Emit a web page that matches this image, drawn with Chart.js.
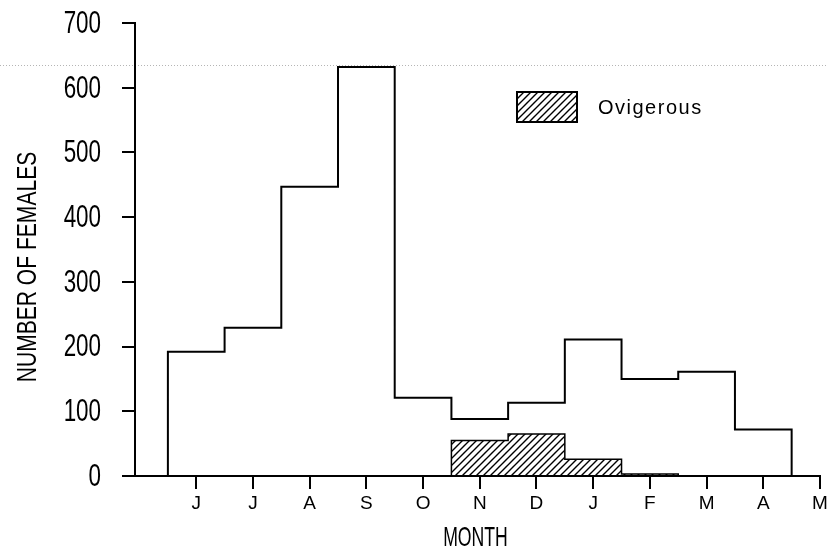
<!DOCTYPE html>
<html>
<head>
<meta charset="utf-8">
<script src="https://cdn.jsdelivr.net/npm/chart.js@4.4.0/dist/chart.umd.min.js"></script>
<style>
  html, body { margin: 0; padding: 0; background: #fff; }
</style>
</head>
<body>
<canvas id="myChart" width="828" height="553"></canvas>
<script>
// Meses (junio a mayo) y número de hembras por mes
const meses = ["J", "J", "A", "S", "O", "N", "D", "J", "F", "M", "A", "M"];
const hembras = [192, 229, 447, 632, 121, 88, 113, 211, 150, 161, 72, 0];
const ovigeras = [0, 0, 0, 0, 0, 55, 65, 26, 3, 0, 0, 0];
const ticksY = [0, 100, 200, 300, 400, 500, 600, 700];

const fuente = "'Liberation Sans', Arial, sans-serif";

document.addEventListener("DOMContentLoaded", function () {
  const ctx = document.getElementById("myChart").getContext("2d");

  // Convierte los valores por mes en el contorno escalonado del histograma
  function escalones(valores) {
    const usados = valores.map((v, i) => (v > 0 ? i : -1)).filter((i) => i >= 0);
    const primero = usados[0];
    const ultimo = usados[usados.length - 1];
    const puntos = [{ x: primero - 0.5, y: 0 }];
    for (let i = primero; i <= ultimo; i++) {
      puntos.push({ x: i - 0.5, y: valores[i] }, { x: i + 0.5, y: valores[i] });
    }
    puntos.push({ x: ultimo + 0.5, y: 0 });
    return puntos;
  }

  // Patrón de rayas diagonales para las ovígeras
  function rayado() {
    const c = document.createElement("canvas");
    c.width = 7;
    c.height = 7;
    const g = c.getContext("2d");
    g.strokeStyle = "#000";
    g.lineWidth = 1.4;
    g.beginPath();
    g.moveTo(0, 7);
    g.lineTo(7, 0);
    g.moveTo(-1, 1);
    g.lineTo(1, -1);
    g.moveTo(6, 8);
    g.lineTo(8, 6);
    g.stroke();
    return ctx.createPattern(c, "repeat");
  }
  const patron = rayado();

  // Texto estrecho (escalado en horizontal), como el de la figura impresa
  function textoEstrecho(c, texto, x, y, tam, escala, alineado, angulo) {
    c.save();
    c.translate(x, y);
    if (angulo) c.rotate(angulo);
    c.scale(escala, 1);
    c.fillStyle = "#000";
    c.font = tam + "px " + fuente;
    c.textAlign = alineado;
    c.textBaseline = "middle";
    c.fillText(texto, 0, 0);
    c.restore();
  }

  // Línea punteada gris, etiquetas del eje Y, títulos y leyenda
  const extras = {
    id: "extras",
    beforeDraw(chart) {
      const c = chart.ctx;
      c.save();
      c.strokeStyle = "#b5b5b5";
      c.lineWidth = 1;
      c.setLineDash([1, 2]);
      c.beginPath();
      c.moveTo(0, 65.5);
      c.lineTo(chart.width, 65.5);
      c.stroke();
      c.restore();
    },
    afterDraw(chart) {
      const c = chart.ctx;
      const ejeY = chart.scales.y;
      const area = chart.chartArea;

      ejeY.ticks.forEach((t) => {
        textoEstrecho(c, String(t.value), 101, ejeY.getPixelForValue(t.value) + 1, 32, 0.7, "right");
      });
      textoEstrecho(c, "NUMBER OF FEMALES", 29, 267, 27, 0.78, "center", -Math.PI / 2);
      textoEstrecho(c, "MONTH", (area.left + area.right) / 2 - 2, 538, 28, 0.63, "center");

      // leyenda
      const ds = chart.data.datasets[0];
      c.save();
      c.fillStyle = ds.backgroundColor;
      c.fillRect(517, 92, 60, 30);
      c.strokeStyle = "#000";
      c.lineWidth = 2;
      c.strokeRect(517, 92, 60, 30);
      c.fillStyle = "#000";
      c.font = "20px " + fuente;
      c.letterSpacing = "1.5px";
      c.textBaseline = "middle";
      c.fillText(ds.label, 598, 108);
      c.restore();
    },
  };

  new Chart(ctx, {
    type: "line",
    data: {
      datasets: [
        {
          label: "Ovigerous",
          data: escalones(ovigeras),
          borderColor: "#000",
          borderWidth: 1.5,
          backgroundColor: patron,
          fill: "origin",
          pointRadius: 0,
          tension: 0,
        },
        {
          label: "Females",
          data: escalones(hembras),
          borderColor: "#000",
          borderWidth: 2,
          fill: false,
          pointRadius: 0,
          tension: 0,
        },
      ],
    },
    options: {
      responsive: false,
      animation: false,
      layout: { padding: { top: 23, right: 8, left: 0, bottom: 0 } },
      plugins: {
        legend: { display: false },
        tooltip: { enabled: false },
      },
      scales: {
        x: {
          type: "linear",
          min: -1.08,
          max: 11,
          afterBuildTicks: (s) => {
            s.ticks = meses.map((_, i) => ({ value: i }));
          },
          afterFit: (s) => {
            s.height = 77;
            s.paddingLeft = 0;
            s.paddingRight = 0;
          },
          ticks: {
            callback: (v) => meses[v],
            color: "#000",
            font: { family: fuente, size: 19 },
            padding: 3,
            maxRotation: 0,
            autoSkip: false,
          },
          grid: { drawOnChartArea: false, tickLength: 13, color: "#000", lineWidth: 2 },
          border: { color: "#000", width: 2 },
        },
        y: {
          min: 0,
          max: 700,
          afterBuildTicks: (s) => {
            s.ticks = ticksY.map((v) => ({ value: v }));
          },
          afterFit: (s) => {
            s.width = 135;
            s.paddingTop = 0;
            s.paddingBottom = 0;
          },
          ticks: { display: false },
          grid: { drawOnChartArea: false, tickLength: 13, color: "#000", lineWidth: 2 },
          border: { color: "#000", width: 2 },
        },
      },
    },
    plugins: [extras],
  });
});
</script>
</body>
</html>
